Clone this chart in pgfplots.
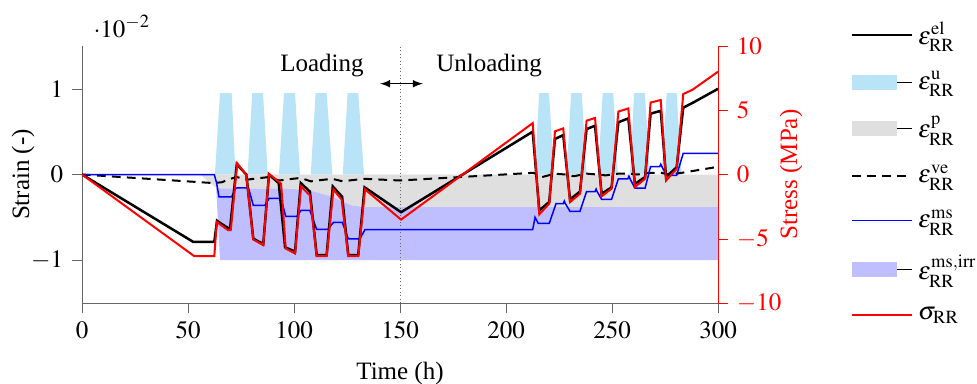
\documentclass[border=0pt]{standalone}
\usepackage{mathptmx}
\usepackage{fontspec}
\setmainfont{Liberation Serif}
\usepackage{pgfplots}
\pgfplotsset{compat=1.18}
\definecolor{ubar}{RGB}{185,228,248}
\pgfplotsset{
  myline/.style={legend image code/.code={\draw[##1] (0pt,0pt) -- (18pt,0pt);\path (18pt,0pt) -- (24pt,0pt);}},
  myarea/.style={legend image code/.code={\fill[##1,draw=none] (0pt,-3pt) rectangle (18pt,3pt);\path (18pt,0pt) -- (24pt,0pt);}},
}
\begin{document}
\begin{tikzpicture}
\begin{axis}[name=ax, scale only axis, width=254.4pt, height=102.8pt,
  xmin=0, xmax=300, ymin=-1.5, ymax=1.5,
  axis x line*=bottom, axis y line*=left,
  axis line style={black!60}, tick style={black!60},
  xtick={0,50,...,300}, ytick={-1,0,1},
  tick align=outside, major tick length=4pt,
  xlabel={Time (h)}, ylabel={Strain (-)},
  xlabel style={at={(rel axis cs:0.5,0)}, anchor=center, yshift=-28pt},
  ylabel style={at={(rel axis cs:0,0.5)}, anchor=center, yshift=23.6pt},
  clip mode=individual]
% eps^u bars
\addplot[fill=ubar, draw=none] coordinates {
 (62.7,0)(65.1,0.95)(70.6,0.95)(72.4,0)
 (78.1,0)(80.3,0.95)(85.4,0.95)(87.6,0)
 (92.9,0)(95.3,0.95)(100.5,0.95)(102.8,0)
 (107.9,0)(110.2,0.95)(115.4,0.95)(118.1,0)
 (123,0)(125.3,0.95)(130.3,0.95)(133,0)
 (213.7,0)(215.6,0.95)(220.3,0.95)(222.6,0)
 (228.6,0)(230.7,0.95)(235.7,0.95)(238,0)
 (243.4,0)(245.6,0.95)(250.6,0.95)(252.8,0)
 (258.5,0)(260.4,0.95)(265.5,0.95)(267.9,0)
 (273.4,0)(275.8,0.95)(280.5,0.95)(282.8,0)};
% eps^p area
\addplot[fill=gray!25, draw=none] coordinates {
 (55.7,0)(63.5,-0.16)(100,-0.17)(108,-0.19)(118,-0.26)(127,-0.36)(133,-0.38)(300,-0.38)(300,0)};
% eps^ms,irr area
\addplot[fill=blue!25, draw=none] coordinates {
 (63.3,-0.16)(100,-0.17)(108,-0.19)(118,-0.26)(127,-0.36)(133,-0.38)(300,-0.38)(300,-1.0)(65.1,-1.0)};
% dotted separator
\addplot[densely dotted, black!60, thin] coordinates {(150,-1.5)(150,1.5)};
% eps^ve
\addplot[black, thick, dash pattern=on 3.5pt off 2.5pt] coordinates {
 (0,0)(62,-0.10)(66,-0.09)(70,-0.05)(73,-0.03)(78,-0.06)(81,-0.05)(88,-0.03)(93,-0.07)(96,-0.06)
 (103,-0.04)(108,-0.08)(111,-0.07)(118,-0.05)(123,-0.08)(126,-0.07)(133,-0.05)(150,-0.07)
 (213,0.02)(217,-0.03)(223,0.01)(228,0.0)(232,-0.02)(238,0.01)(243,0.0)(247,-0.01)(253,0.01)
 (258,0.01)(262,0.0)(268,0.02)(273,0.02)(277,0.0)(283,0.02)(300,0.09)};
% eps^ms
\addplot[blue, semithick] coordinates {
 (0,0)(62.4,0)(63.5,-0.1)(64.6,-0.26)(70.6,-0.26)(72.5,-0.16)(73.4,-0.155)(78.5,-0.155)
 (80.8,-0.36)(86.3,-0.36)(88.2,-0.28)(93.9,-0.28)(96.1,-0.49)(101.3,-0.49)(103.3,-0.42)(107.5,-0.42)
 (110.7,-0.64)(115.9,-0.64)(118.6,-0.56)(122.8,-0.56)(125.6,-0.75)(131.1,-0.75)(133.5,-0.643)
 (212.6,-0.643)(213.7,-0.5)(215.2,-0.57)(220.4,-0.57)(223.6,-0.34)(227,-0.34)(227.5,-0.31)(228,-0.34)
 (230.2,-0.43)(234.9,-0.43)(238,-0.2)(242,-0.2)(242.5,-0.17)(243,-0.2)(245.1,-0.29)(249.8,-0.29)
 (253,-0.05)(257.5,-0.05)(258,-0.02)(258.5,-0.05)(260.8,-0.16)(265.6,-0.16)(268.2,0.093)(272.5,0.093)
 (273,0.12)(273.5,0.093)(275.8,-0.01)(280.5,-0.01)(283.6,0.248)(300,0.248)};
% eps^el
\addplot[black, line width=1pt] coordinates {
 (0,0)(52.5,-0.787)(62.4,-0.787)(63.7,-0.54)(64.8,-0.56)(69.8,-0.64)(73,0.12)(77.5,0.0)
 (80.8,-0.75)(85.5,-0.81)(88.2,0.0)(92.8,-0.10)(95.8,-0.85)(100.5,-0.90)(103.2,-0.10)(107.5,-0.20)
 (110.7,-0.94)(115.4,-0.94)(118.3,-0.14)(122.7,-0.26)(125.6,-0.94)(130.3,-0.94)(133.3,-0.15)
 (150.5,-0.44)(212.6,0.5)(215.7,-0.42)(220.4,-0.32)(223.1,0.415)(227,0.46)(230.2,-0.29)(234.9,-0.2)
 (238,0.53)(242,0.57)(245.1,-0.225)(249.8,-0.15)(253,0.61)(257.7,0.655)(260.8,-0.11)(265.6,-0.03)
 (268.2,0.71)(273,0.744)(275.5,-0.03)(280.5,0.085)(283.6,0.78)(288.3,0.84)(300,1.0)};
% annotations
\node[anchor=base west, inner sep=0pt] at ([xshift=4.4pt,yshift=3.6pt]rel axis cs:0,1) {$\cdot 10^{-2}$};
\node[anchor=east] at (axis cs:137,1.27) {Loading};
\node[anchor=west] at (axis cs:163,1.27) {Unloading};
\draw[<->, >=latex] (axis cs:140.6,1.06) -- (axis cs:160.8,1.06);
\end{axis}
\begin{axis}[scale only axis, width=254.4pt, height=102.8pt,
  xmin=0, xmax=300, ymin=-10, ymax=10,
  axis y line*=right, axis x line=none,
  y axis line style={red}, ytick style={red}, yticklabel style={red},
  ytick={-10,-5,0,5,10},
  tick align=outside, major tick length=4pt,
  ylabel={Stress (MPa)},
  ylabel style={red, at={(rel axis cs:1,0.5)}, anchor=center, yshift=-29.2pt},
  legend style={draw=none, fill=none, at={(1.196,1.133)}, anchor=north west,
    cells={anchor=west}, row sep=5.5pt, font=\normalsize},
  clip mode=individual]
\addlegendimage{myline, black, line width=1pt}
\addlegendimage{myarea, fill=ubar}
\addlegendimage{myarea, fill=gray!25}
\addlegendimage{myline, black, thick, dash pattern=on 3.5pt off 2.5pt}
\addlegendimage{myline, blue, semithick}
\addlegendimage{myarea, fill=blue!25}
\addlegendimage{myline, red, thick}
% sigma_RR
\addplot[red, thick, forget plot] coordinates {
 (0,0)(53,-6.36)(62.4,-6.36)(63.6,-3.7)(69,-4.34)(70.2,-4.3)(73.2,0.88)(77.5,-0.05)
 (80.8,-5.06)(85.5,-5.5)(88.2,0.05)(93.9,-0.72)(96.1,-5.76)(100.5,-6.15)(103.3,-0.93)(107.5,-1.63)
 (110.7,-6.36)(115.4,-6.36)(118.6,-1.16)(122.5,-1.96)(125.6,-6.36)(130.3,-6.36)(133.5,-1.16)
 (150.5,-3.51)(212.6,4.0)(215.7,-3.1)(220.4,-2.27)(223.1,3.36)(227,3.59)(230.2,-2.15)(234.9,-1.5)
 (238,4.19)(242,4.4)(245.1,-1.7)(249.8,-1.1)(253,4.9)(257.7,5.14)(260.8,-0.98)(265.6,-0.33)
 (268.2,5.6)(273,5.8)(275.5,-0.47)(280.5,0.44)(283.6,6.26)(288,6.6)(300,8.0)};
\legend{$\varepsilon^{\mathrm{el}}_{\mathrm{RR}}$,
        $\varepsilon^{\mathrm{u}}_{\mathrm{RR}}$,
        $\varepsilon^{\mathrm{p}}_{\mathrm{RR}}$,
        $\varepsilon^{\mathrm{ve}}_{\mathrm{RR}}$,
        $\varepsilon^{\mathrm{ms}}_{\mathrm{RR}}$,
        $\varepsilon^{\mathrm{ms,irr}}_{\mathrm{RR}}$,
        $\sigma_{\mathrm{RR}}$}
\end{axis}
\pgfresetboundingbox
\path[use as bounding box] ([shift={(-32.8pt,-32pt)}]ax.south west) rectangle ([shift={(103.6pt,18.4pt)}]ax.north east);
\end{tikzpicture}
\end{document}
